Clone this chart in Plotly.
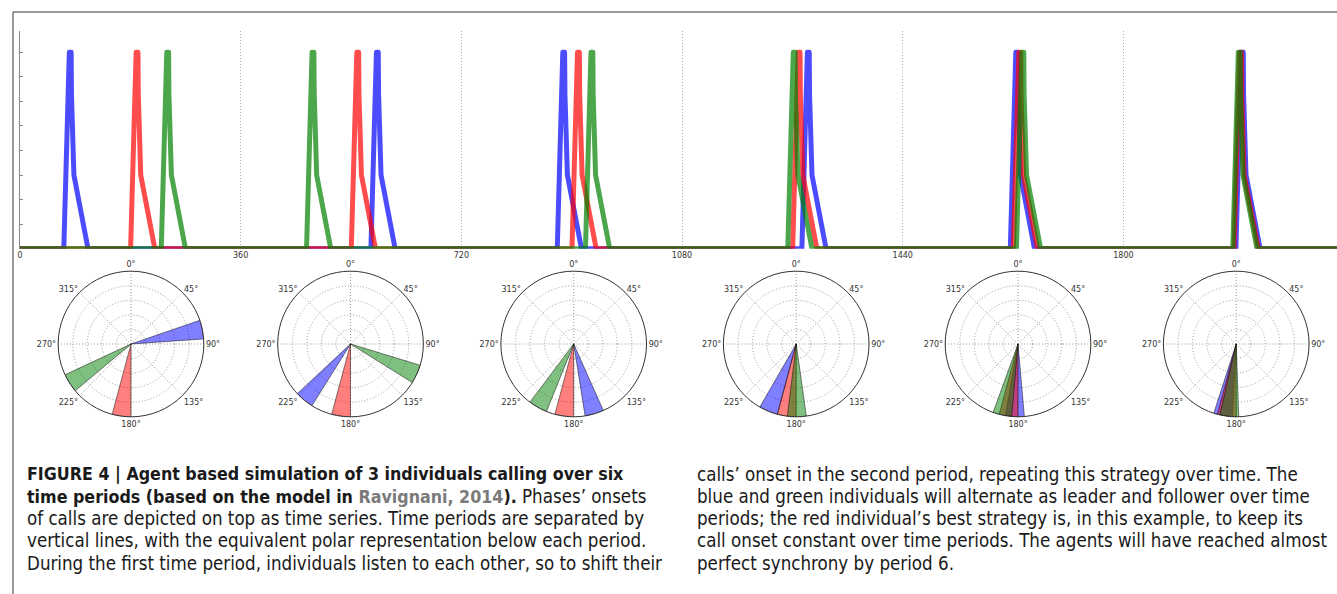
import plotly.graph_objects as go

W, H = 1337, 594

# ---------------- data ----------------
period_len = 360
n_periods = 6
individuals = ["blue", "red", "green"]
# call onset (degrees within each period)
onset_blue = [71, 212, 156, 195, 175, 183]
onset_red = [180, 180, 180, 180, 180, 180]
onset_green = [230, 107, 202, 172, 185, 178]
onsets = {"blue": onset_blue, "red": onset_red, "green": onset_green}
# call envelope shape (offset from onset, amplitude)
env_offsets = [0.5, 9.5, 12.5, 13, 17, 40]
env_values = [0, 8, 8, 6.3, 3.0, 0]
wedge_width = 15
x_ticks = [0, 360, 720, 1080, 1440, 1800]
theta_ticks = [0, 45, 90, 135, 180, 225, 270, 315]
theta_labels = ["0°", "45°", "90°", "135°", "180°", "225°", "270°", "315°"]

line_colors = {"blue": "rgba(0,0,255,0.7)", "red": "rgba(255,0,0,0.7)", "green": "rgba(0,128,0,0.7)"}
wedge_colors = {"blue": "rgba(0,0,255,0.5)", "red": "rgba(255,0,0,0.5)", "green": "rgba(0,128,0,0.5)"}

B = "<span style='font-size:17.7px'><b>"
BE = "</b></span>"
caption_left = [
    B + "FIGURE 4 | Agent based simulation of 3 individuals calling over six" + BE,
    B + "time periods (based on the model in <span style='color:#7a7a7a'>Ravignani, 2014</span>)." + BE + " Phases’ onsets",
    "of calls are depicted on top as time series. Time periods are separated by",
    "vertical lines, with the equivalent polar representation below each period.",
    "During the first time period, individuals listen to each other, so to shift their",
]
caption_right = [
    "calls’ onset in the second period, repeating this strategy over time. The",
    "blue and green individuals will alternate as leader and follower over time",
    "periods; the red individual’s best strategy is, in this example, to keep its",
    "call onset constant over time periods. The agents will have reached almost",
    "perfect synchrony by period 6.",
]

# ---------------- figure ----------------
fig = go.Figure()

total_len = period_len * n_periods
for ind in individuals:
    xs, ys = [0], [0]
    for k in range(n_periods):
        base = k * period_len + onsets[ind][k]
        for off, val in zip(env_offsets, env_values):
            xs.append(base + off)
            ys.append(val)
    xs.append(total_len)
    ys.append(0)
    fig.add_trace(go.Scatter(x=xs, y=ys, mode="lines",
                             line=dict(color=line_colors[ind], width=5),
                             hoverinfo="skip", showlegend=False))

# polar panels
centers = [128.3, 348.3, 572, 795, 1017.3, 1236]
cy = 344
rad = 73
for k in range(n_periods):
    pname = "polar" if k == 0 else f"polar{k+1}"
    for ind in individuals:
        fig.add_trace(go.Barpolar(
            theta=[onsets[ind][k] + wedge_width / 2], r=[1], width=[wedge_width],
            marker=dict(color=wedge_colors[ind], line=dict(color="rgba(0,0,0,0.8)", width=0.6)),
            subplot=pname, hoverinfo="skip", showlegend=False))
    cx = centers[k]
    fig.update_layout(**{pname: dict(
        domain=dict(x=[(cx - rad) / W, (cx + rad) / W],
                    y=[(H - cy - rad) / H, (H - cy + rad) / H]),
        bgcolor="white",
        angularaxis=dict(rotation=90, direction="clockwise",
                         tickvals=theta_ticks, ticktext=theta_labels,
                         tickfont=dict(family="DejaVu Sans", size=8, color="#333"),
                         ticks="", showline=True, linecolor="#333", linewidth=1,
                         showgrid=True, gridcolor="#999", griddash="1px,2px", gridwidth=1),
        radialaxis=dict(range=[0, 1], tickvals=[0.2, 0.4, 0.6, 0.8],
                        showticklabels=False, ticks="", showline=False,
                        showgrid=True, gridcolor="#999", griddash="1px,2px", gridwidth=1),
    )})

# time-series axes
y_bottom_px, y_top_px, px_per_unit = 248.7, 31, 24.55
ymax = (y_bottom_px - y_top_px) / px_per_unit
x_left_px, px_per_deg = 17, 0.6144
xmax = (W - x_left_px) / px_per_deg

fig.update_layout(
    width=W, height=H,
    margin=dict(l=0, r=0, t=0, b=0),
    paper_bgcolor="white", plot_bgcolor="white",
    showlegend=False,
    xaxis=dict(domain=[x_left_px / W, 1], range=[0, xmax],
               tickvals=x_ticks, ticktext=[str(v) for v in x_ticks],
               tickfont=dict(family="DejaVu Sans", size=8, color="#333"),
               ticks="", showline=False, zeroline=False,
               showgrid=True, gridcolor="#aaa", griddash="1px,2px", gridwidth=1),
    yaxis=dict(domain=[(H - y_bottom_px) / H, (H - y_top_px) / H], range=[0, ymax],
               tickvals=list(range(0, 9)), showticklabels=False,
               ticks="inside", ticklen=3, tickcolor="#888",
               showline=True, linecolor="#888", linewidth=1,
               showgrid=False, zeroline=False),
)

# frame lines
fig.add_shape(type="line", xref="paper", yref="paper",
              x0=10 / W, x1=1, y0=1 - 12 / H, y1=1 - 12 / H,
              line=dict(color="#777", width=1.5))
fig.add_shape(type="line", xref="paper", yref="paper",
              x0=10 / W, x1=10 / W, y0=0, y1=1 - 12 / H,
              line=dict(color="#777", width=1.5))

# caption
line_y = [474, 496, 518, 540, 563]
cap_font = dict(family="Liberation Sans Narrow, DejaVu Sans Condensed, Arial Narrow, sans-serif",
                size=18.6, color="#1a1a1a")
for txt, yy in zip(caption_left, line_y):
    fig.add_annotation(x=22 / W, y=1 - yy / H, xref="paper", yref="paper",
                       text=txt, showarrow=False, xanchor="left", yanchor="middle",
                       font=cap_font)
for txt, yy in zip(caption_right, line_y):
    fig.add_annotation(x=694 / W, y=1 - yy / H, xref="paper", yref="paper",
                       text=txt, showarrow=False, xanchor="left", yanchor="middle",
                       font=cap_font)

post = (
    "document.body.style.margin='0';document.body.style.overflow='hidden';"
    "document.querySelectorAll('.scatterlayer path.js-line').forEach(function(p){"
    "p.style.strokeLinejoin='round';p.style.strokeLinecap='round';});"
)
fig.write_html("out.html", config={"displayModeBar": False}, post_script=post)
